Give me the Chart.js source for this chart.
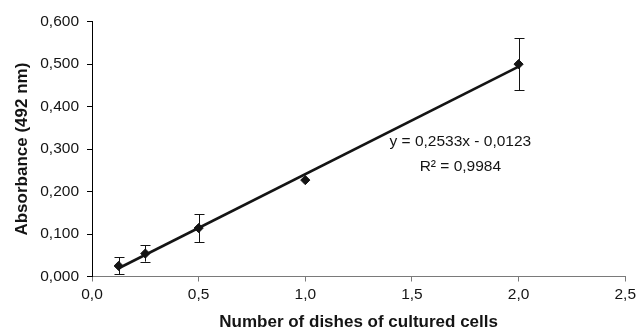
<!DOCTYPE html>
<html><head><meta charset="utf-8">
<script src="https://cdn.jsdelivr.net/npm/chart.js@4"></script>
<style>html,body{margin:0;padding:0;background:#fff;overflow:hidden}#wrap{width:640px;height:331px;position:relative}</style>
</head><body><div id="wrap"><canvas id="c" width="640" height="331"></canvas></div>
<script>
// ---- data ----
const xValues = [0.125, 0.25, 0.5, 1.0, 2.0];
const yValues = [0.025, 0.054, 0.114, 0.227, 0.500];
const yErrors = [0.020, 0.019, 0.033, 0.000, 0.061];
const trendX = [0.125, 2.0];
const trendY = [0.0194, 0.4943];
const xTickLabels = ['0,0', '0,5', '1,0', '1,5', '2,0', '2,5'];
const yTickLabels = ['0,000', '0,100', '0,200', '0,300', '0,400', '0,500', '0,600'];
const equationLines = ['y = 0,2533x - 0,0123', 'R\u00B2 = 0,9984'];
const xTitle = 'Number of dishes of cultured cells';
const yTitle = 'Absorbance (492 nm)';

const INK = '#141414';
const FONT = 'Liberation Sans, Arial, Helvetica, sans-serif';

const errorBars = {
  id: 'errorBars',
  beforeDatasetsDraw(chart) {
    const {ctx, scales: {x, y}} = chart;
    ctx.save();
    ctx.strokeStyle = INK;
    ctx.lineWidth = 1;
    for (let i = 0; i < xValues.length; i++) {
      if (!yErrors[i]) continue;
      const px = Math.round(x.getPixelForValue(xValues[i])) + 0.5;
      const t = y.getPixelForValue(yValues[i] + yErrors[i]);
      const b = y.getPixelForValue(yValues[i] - yErrors[i]);
      ctx.beginPath();
      ctx.moveTo(px, t); ctx.lineTo(px, b);
      ctx.moveTo(px - 5, Math.round(t) + 0.5); ctx.lineTo(px + 5, Math.round(t) + 0.5);
      ctx.moveTo(px - 5, Math.round(b) + 0.5); ctx.lineTo(px + 5, Math.round(b) + 0.5);
      ctx.stroke();
    }
    ctx.restore();
  }
};

const equationLabel = {
  id: 'equationLabel',
  afterDraw(chart) {
    const {ctx, scales: {x, y}} = chart;
    ctx.save();
    ctx.fillStyle = INK;
    ctx.font = '15.5px ' + FONT;
    ctx.textAlign = 'center';
    ctx.textBaseline = 'middle';
    const cx = x.getPixelForValue(1.727);
    ctx.fillText(equationLines[0], cx, y.getPixelForValue(0.318));
    ctx.fillText(equationLines[1], cx, y.getPixelForValue(0.259));
    ctx.restore();
  }
};

new Chart(document.getElementById('c'), {
  type: 'scatter',
  data: {
    datasets: [
      {
        label: 'trend',
        data: trendX.map((v, i) => ({x: v, y: trendY[i]})),
        showLine: true,
        borderColor: INK,
        borderWidth: 2.6,
        pointRadius: 0,
        fill: false
      },
      {
        label: 'data',
        data: xValues.map((v, i) => ({x: v, y: yValues[i]})),
        pointStyle: 'rectRot',
        pointRadius: 4.6,
        backgroundColor: INK,
        borderColor: INK,
        borderWidth: 1
      }
    ]
  },
  options: {
    responsive: false,
    animation: false,
    devicePixelRatio: 1,
    layout: {padding: {top: 21.7, right: 14, left: 0, bottom: 0}},
    plugins: {legend: {display: false}, tooltip: {enabled: false}},
    scales: {
      x: {
        type: 'linear', position: 'bottom', min: 0, max: 2.5,
        ticks: {stepSize: 0.5, color: INK, padding: 4, font: {family: FONT, size: 15.5},
          callback: (v, i) => xTickLabels[i]},
        grid: {drawOnChartArea: false, drawTicks: true, tickLength: 5, color: '#7a7a7a'},
        border: {color: '#7a7a7a', width: 1},
        title: {display: true, text: xTitle, color: INK,
          font: {family: FONT, size: 17, weight: 'bold', lineHeight: 1},
          padding: {top: 0, bottom: 0}},
        afterFit(s) { s.height = 54.5; }
      },
      y: {
        type: 'linear', min: 0, max: 0.6,
        ticks: {stepSize: 0.1, color: INK, padding: 8, font: {family: FONT, size: 15.5},
          callback: (v, i) => yTickLabels[i]},
        grid: {drawOnChartArea: false, drawTicks: true, tickLength: 5, color: '#000'},
        border: {color: '#000', width: 1},
        title: {display: true, text: yTitle, color: INK,
          font: {family: FONT, size: 17, weight: 'bold', lineHeight: 1},
          padding: {top: 14, bottom: 0}},
        afterFit(s) { s.width = 92; }
      }
    }
  },
  plugins: [errorBars, equationLabel]
});
</script></body></html>
